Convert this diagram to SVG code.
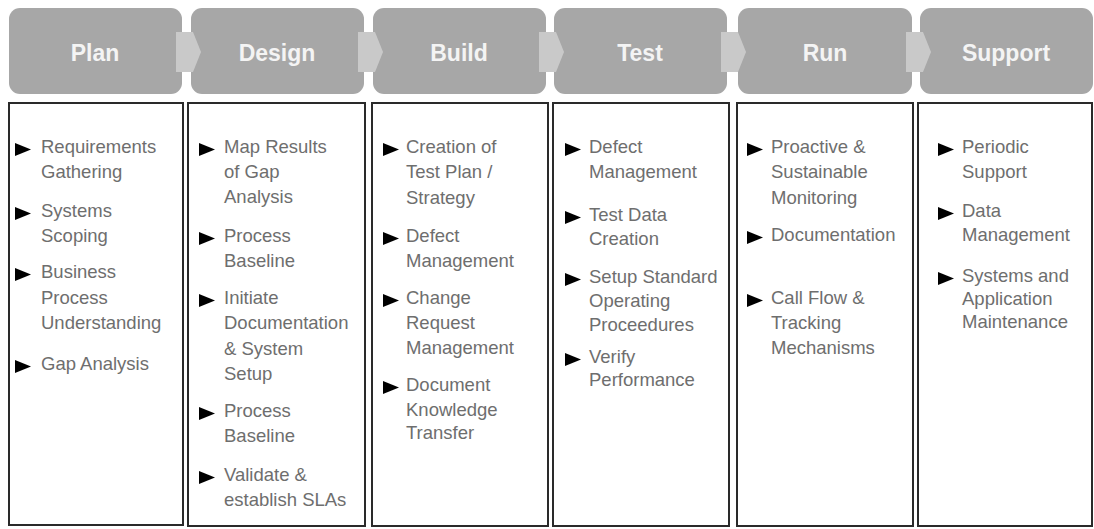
<svg xmlns="http://www.w3.org/2000/svg" width="1094" height="529" viewBox="0 0 1094 529">
<style>
.hdr{fill:#a7a7a7;}
.htxt{font-family:"Liberation Sans",Arial,sans-serif;font-weight:bold;font-size:23px;fill:#f4f4f4;text-anchor:middle;}
.box{fill:#fff;stroke:#2a2a2a;stroke-width:2;}
.t{font-family:"Liberation Sans",Arial,sans-serif;font-size:18.5px;fill:#6e6e6e;}
.b{fill:#000;}
.chev{fill:#c9c9c9;}
</style>
<rect width="1094" height="529" fill="#fff"/>
<g id="headers">
<g id="h-plan"><rect class="hdr" x="9" y="8" width="173" height="86" rx="11"/><text class="htxt" x="95" y="61">Plan</text></g>
<g id="h-design"><rect class="hdr" x="191" y="8" width="173" height="86" rx="11"/><text class="htxt" x="277" y="61">Design</text></g>
<g id="h-build"><rect class="hdr" x="373" y="8" width="173" height="86" rx="11"/><text class="htxt" x="459" y="61">Build</text></g>
<g id="h-test"><rect class="hdr" x="554" y="8" width="173" height="86" rx="11"/><text class="htxt" x="640" y="61">Test</text></g>
<g id="h-run"><rect class="hdr" x="738" y="8" width="174" height="86" rx="11"/><text class="htxt" x="825" y="61">Run</text></g>
<g id="h-support"><rect class="hdr" x="920" y="8" width="173" height="86" rx="11"/><text class="htxt" x="1006" y="61">Support</text></g>
</g>
<g id="connectors">
<polygon class="chev" points="176,32 193,32 201,52 193,72 176,72"/>
<polygon class="chev" points="358,32 375,32 383,52 375,72 358,72"/>
<polygon class="chev" points="539,32 556,32 564,52 556,72 539,72"/>
<polygon class="chev" points="721,32 738,32 746,52 738,72 721,72"/>
<polygon class="chev" points="906,32 923,32 931,52 923,72 906,72"/>
</g>
<g id="col-plan">
<rect class="box" x="9" y="103" width="174" height="422"/>
<polygon class="b" points="15,143 31,149.5 15,156"/>
<polygon class="b" points="15,207 31,213.5 15,220"/>
<polygon class="b" points="15,268 31,274.5 15,281"/>
<polygon class="b" points="15,360 31,366.5 15,373"/>
<text class="t" x="41" y="153">Requirements</text>
<text class="t" x="41" y="178">Gathering</text>
<text class="t" x="41" y="217">Systems</text>
<text class="t" x="41" y="242">Scoping</text>
<text class="t" x="41" y="278">Business</text>
<text class="t" x="41" y="304">Process</text>
<text class="t" x="41" y="329">Understanding</text>
<text class="t" x="41" y="370">Gap Analysis</text>
</g>
<g id="col-design">
<rect class="box" x="188" y="103" width="177" height="423"/>
<polygon class="b" points="199,143 215,149.5 199,156"/>
<polygon class="b" points="199,232 215,238.5 199,245"/>
<polygon class="b" points="199,294 215,300.5 199,307"/>
<polygon class="b" points="199,407 215,413.5 199,420"/>
<polygon class="b" points="199,471 215,477.5 199,484"/>
<text class="t" x="224" y="153">Map Results</text>
<text class="t" x="224" y="178">of Gap</text>
<text class="t" x="224" y="203">Analysis</text>
<text class="t" x="224" y="242">Process</text>
<text class="t" x="224" y="267">Baseline</text>
<text class="t" x="224" y="304">Initiate</text>
<text class="t" x="224" y="329">Documentation</text>
<text class="t" x="224" y="355">&amp; System</text>
<text class="t" x="224" y="380">Setup</text>
<text class="t" x="224" y="417">Process</text>
<text class="t" x="224" y="442">Baseline</text>
<text class="t" x="224" y="481">Validate &amp;</text>
<text class="t" x="224" y="506">establish SLAs</text>
</g>
<g id="col-build">
<rect class="box" x="372" y="103" width="176" height="423"/>
<polygon class="b" points="383,143 399,149.5 383,156"/>
<polygon class="b" points="383,232 399,238.5 383,245"/>
<polygon class="b" points="383,294 399,300.5 383,307"/>
<polygon class="b" points="383,381 399,387.5 383,394"/>
<text class="t" x="406" y="153">Creation of</text>
<text class="t" x="406" y="178">Test Plan /</text>
<text class="t" x="406" y="204">Strategy</text>
<text class="t" x="406" y="242">Defect</text>
<text class="t" x="406" y="267">Management</text>
<text class="t" x="406" y="304">Change</text>
<text class="t" x="406" y="329">Request</text>
<text class="t" x="406" y="354">Management</text>
<text class="t" x="406" y="391">Document</text>
<text class="t" x="406" y="416">Knowledge</text>
<text class="t" x="406" y="439">Transfer</text>
</g>
<g id="col-test">
<rect class="box" x="553" y="103" width="176" height="423"/>
<polygon class="b" points="565,143 581,149.5 565,156"/>
<polygon class="b" points="565,211 581,217.5 565,224"/>
<polygon class="b" points="565,273 581,279.5 565,286"/>
<polygon class="b" points="565,353 581,359.5 565,366"/>
<text class="t" x="589" y="153">Defect</text>
<text class="t" x="589" y="178">Management</text>
<text class="t" x="589" y="221">Test Data</text>
<text class="t" x="589" y="245">Creation</text>
<text class="t" x="589" y="283">Setup Standard</text>
<text class="t" x="589" y="307">Operating</text>
<text class="t" x="589" y="331">Proceedures</text>
<text class="t" x="589" y="363">Verify</text>
<text class="t" x="589" y="386">Performance</text>
</g>
<g id="col-run">
<rect class="box" x="737" y="103" width="176" height="423"/>
<polygon class="b" points="747,143 763,149.5 747,156"/>
<polygon class="b" points="747,231 763,237.5 747,244"/>
<polygon class="b" points="747,294 763,300.5 747,307"/>
<text class="t" x="771" y="153">Proactive &amp;</text>
<text class="t" x="771" y="178">Sustainable</text>
<text class="t" x="771" y="204">Monitoring</text>
<text class="t" x="771" y="241">Documentation</text>
<text class="t" x="771" y="304">Call Flow &amp;</text>
<text class="t" x="771" y="329">Tracking</text>
<text class="t" x="771" y="354">Mechanisms</text>
</g>
<g id="col-support">
<rect class="box" x="918" y="103" width="174" height="423"/>
<polygon class="b" points="938,143 954,149.5 938,156"/>
<polygon class="b" points="938,207 954,213.5 938,220"/>
<polygon class="b" points="938,272 954,278.5 938,285"/>
<text class="t" x="962" y="153">Periodic</text>
<text class="t" x="962" y="178">Support</text>
<text class="t" x="962" y="217">Data</text>
<text class="t" x="962" y="241">Management</text>
<text class="t" x="962" y="282">Systems and</text>
<text class="t" x="962" y="305">Application</text>
<text class="t" x="962" y="328">Maintenance</text>
</g>
</svg>
